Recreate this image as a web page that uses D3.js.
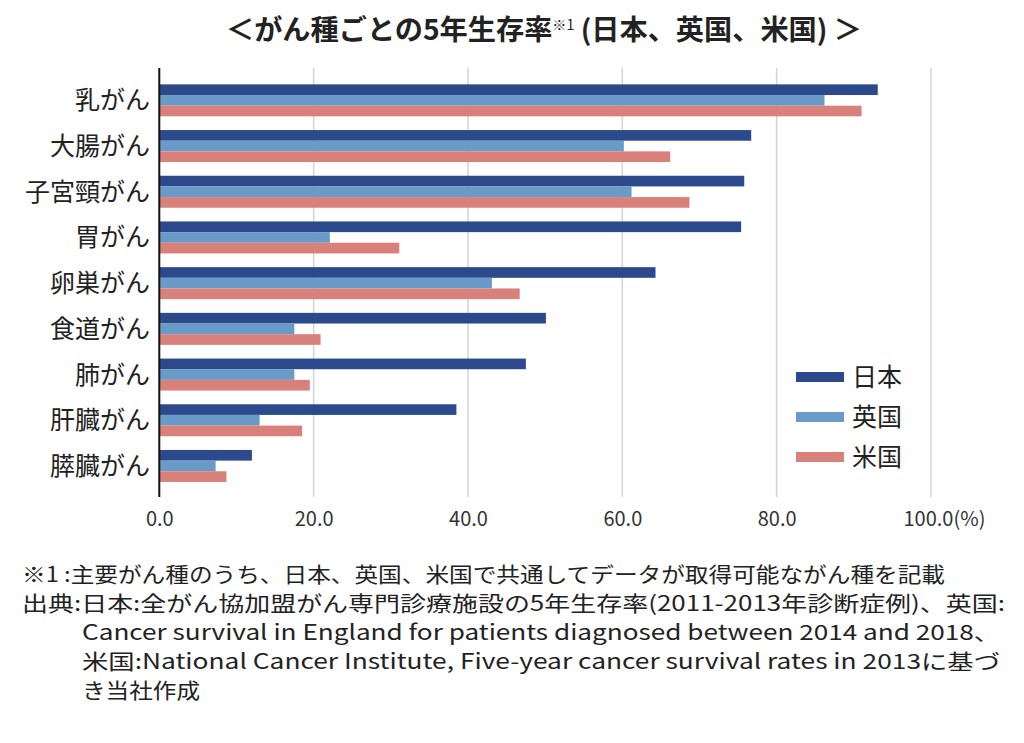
<!DOCTYPE html>
<html><head><meta charset="utf-8">
<script src="https://cdn.jsdelivr.net/npm/d3@7"></script>
<style>
html,body{margin:0;padding:0;background:#fff;}
svg{display:block;font-family:"Noto Sans CJK JP","Noto Sans",sans-serif;}
</style></head>
<body>
<svg id="c" width="1024" height="743"></svg>
<script>
const categories = ["乳がん","大腸がん","子宮頸がん","胃がん","卵巣がん","食道がん","肺がん","肝臓がん","膵臓がん"];
const seriesNames = ["日本","英国","米国"];
const japan = [93.1, 76.7, 75.8, 75.4, 64.3, 50.1, 47.5, 38.5, 12.0];
const uk    = [86.2, 60.2, 61.2, 22.1, 43.1, 17.5, 17.5, 13.0, 7.3];
const us    = [91.0, 66.2, 68.7, 31.1, 46.7, 20.9, 19.5, 18.5, 8.7];
const xTicks = [0, 20, 40, 60, 80, 100];
const xTickLabels = ["0.0","20.0","40.0","60.0","80.0","100.0(%)"];
const colors = ["#2c4a8b", "#6a9bc8", "#d9807a"];
const footLines = [
  "※1 :主要がん種のうち、日本、英国、米国で共通してデータが取得可能ながん種を記載",
  "出典:日本:全がん協加盟がん専門診療施設の5年生存率(2011-2013年診断症例)、英国:",
  "Cancer survival in England for patients diagnosed between 2014 and 2018、",
  "米国:National Cancer Institute, Five-year cancer survival rates in 2013に基づ",
  "き当社作成"
];

const seriesData = [japan, uk, us];
const svg = d3.select("#c");

// title
const title = svg.append("text").attr("x", 226).attr("y", 40)
  .attr("font-size", 28).attr("font-weight", 700).attr("fill","#222")
  .attr("textLength", 636).attr("lengthAdjust", "spacingAndGlyphs");
title.append("tspan").text("＜がん種ごとの5年生存率");
title.append("tspan").attr("font-size", 14).attr("dy", -10).attr("font-weight",400).text("※1");
title.append("tspan").attr("dy", 10).text(" (日本、英国、米国) ＞");

const x = d3.scaleLinear().domain([0, 100]).range([159.3, 931]);
const y = d3.scaleBand().domain(categories).range([77.5, 488.8]).paddingInner(0.3).paddingOuter(0.15);
const y1 = d3.scaleBand().domain(seriesNames).range([0, y.bandwidth()]);

// gridlines
svg.append("g").selectAll("line").data(xTicks.slice(1)).join("line")
  .attr("x1", d => x(d)).attr("x2", d => x(d)).attr("y1", 68).attr("y2", 497)
  .attr("stroke", "#d4d4d4").attr("stroke-width", 1.5);

// bars
const g = svg.append("g");
seriesNames.forEach((s, si) => {
  g.append("g").selectAll("rect").data(categories).join("rect")
    .attr("x", x(0))
    .attr("y", c => y(c) + y1(s))
    .attr("width", (c, i) => x(seriesData[si][i]) - x(0))
    .attr("height", y1.bandwidth())
    .attr("fill", colors[si]);
});

// y axis line
svg.append("line").attr("x1", x(0)).attr("x2", x(0)).attr("y1", 68).attr("y2", 497)
  .attr("stroke", "#111").attr("stroke-width", 2);

// category labels
svg.append("g").selectAll("text").data(categories).join("text")
  .attr("x", 150).attr("y", c => y(c) + y.bandwidth()/2 + 9)
  .attr("text-anchor", "end").attr("font-size", 25).attr("fill", "#222").text(d => d);

// x axis labels
const xa = d3.axisBottom(x).tickValues(xTicks).tickSize(0).tickFormat((d,i) => xTickLabels[i]);
const xg = svg.append("g").attr("transform", "translate(0,505)").call(xa);
xg.select(".domain").remove();
xg.selectAll("text").attr("font-size", 20).attr("fill", "#333")
  .attr("font-family", '"Noto Sans CJK JP","Noto Sans",sans-serif')
  .attr("dy", "0.9em")
  .attr("text-anchor", (d,i) => i === xTicks.length - 1 ? "start" : "middle")
  .attr("dx", (d,i) => i === xTicks.length - 1 ? -28 : 0);

// legend
const leg = svg.append("g");
seriesNames.forEach((s, i) => {
  const cy = 377 + i * 40;
  leg.append("rect").attr("x", 796).attr("y", cy - 5).attr("width", 48).attr("height", 10).attr("fill", colors[i]);
  leg.append("text").attr("x", 852).attr("y", cy + 9).attr("font-size", 25).attr("fill", "#222").text(s);
});

// footnotes
const fx = [22, 22, 82, 82, 82];
const fw = [923, 983, 918, 918, 118];
svg.append("g").selectAll("text").data(footLines).join("text")
  .attr("x", (d,i) => fx[i]).attr("y", (d,i) => 582 + i * 29)
  .attr("font-size", 21).attr("fill", "#222")
  .attr("textLength", (d,i) => fw[i]).attr("lengthAdjust", "spacingAndGlyphs")
  .text(d => d);
</script>
</body></html>
